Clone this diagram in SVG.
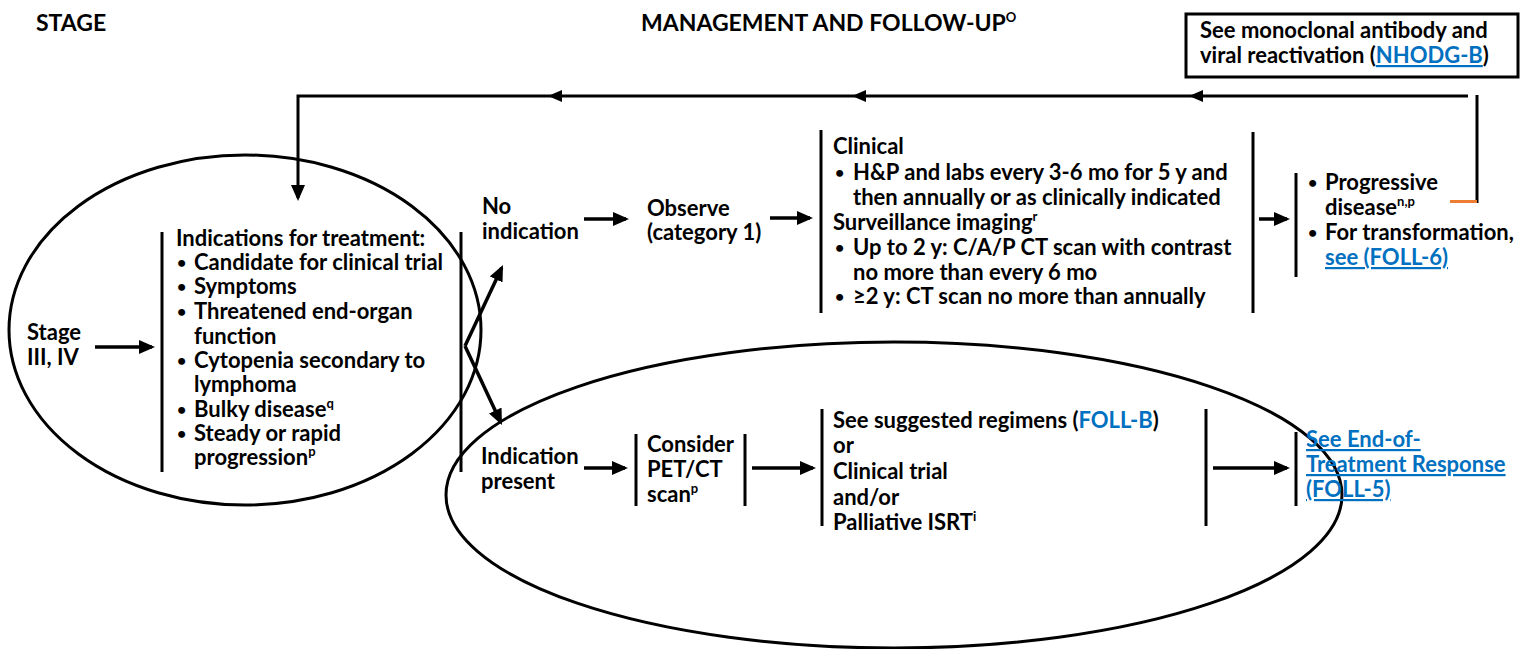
<svg xmlns="http://www.w3.org/2000/svg" width="1522" height="649" viewBox="0 0 1522 649">
<style>
text { font-family: Lato, "Liberation Sans", sans-serif; font-weight: bold; font-size: 22px; fill: #000; }
.hdr { font-size: 23px; }
.sup { font-size: 13px; }
.bul { font-size: 16px; }
.link { fill: #0070C0; text-decoration: underline; }
.blue { fill: #0070C0; }
.bar { stroke: #000; stroke-width: 3; fill: none; }
.ell { stroke: #000; stroke-width: 3; fill: none; }
.con { stroke: #000; stroke-width: 3.5; fill: none; }
.fb { stroke: #000; stroke-width: 3; fill: none; }
</style>
<defs>
<marker id="arr" viewBox="0 0 16 14" refX="13" refY="7" markerWidth="16" markerHeight="14" markerUnits="userSpaceOnUse" orient="auto">
<path d="M0,0 L16,7 L0,14 z" fill="#000"/>
</marker>
</defs>
<rect width="1522" height="649" fill="#fff"/>

<g id="headers">
<text class="hdr" x="36" y="31">STAGE</text>
<text class="hdr" x="641" y="31">MANAGEMENT AND FOLLOW-UP<tspan class="sup" dy="-9">O</tspan></text>
</g>

<g id="ellipses">
<ellipse class="ell" cx="245" cy="330" rx="236" ry="175"/>
<ellipse class="ell" cx="894" cy="495" rx="448" ry="153"/>
</g>

<g id="node-viral">
<rect x="1186" y="14" width="332" height="63" fill="none" stroke="#000" stroke-width="3"/>
<text x="1200" y="38">See monoclonal antibody and</text>
<text x="1200" y="63">viral reactivation (<tspan class="link">NHODG-B</tspan>)</text>
</g>

<g id="node-stage">
<text x="27" y="340">Stage</text>
<text x="27" y="365">III, IV</text>
</g>

<g id="node-indications">
<line class="bar" x1="162" y1="232" x2="162" y2="472"/>
<line class="bar" x1="461" y1="232" x2="461" y2="472"/>
<text x="176" y="246">Indications for treatment:</text>
<text class="bul" x="177" y="268">•</text><text x="194" y="270">Candidate for clinical trial</text>
<text class="bul" x="177" y="292">•</text><text x="194" y="294">Symptoms</text>
<text class="bul" x="177" y="317">•</text><text x="194" y="319">Threatened end-organ</text>
<text x="194" y="344">function</text>
<text class="bul" x="177" y="366">•</text><text x="194" y="368">Cytopenia secondary to</text>
<text x="194" y="392">lymphoma</text>
<text class="bul" x="177" y="415">•</text><text x="194" y="417">Bulky disease<tspan class="sup" dy="-9">q</tspan></text>
<text class="bul" x="177" y="439">•</text><text x="194" y="441">Steady or rapid</text>
<text x="194" y="465">progression<tspan class="sup" dy="-9">p</tspan></text>
</g>

<g id="node-no-indication">
<text x="482" y="214">No</text>
<text x="482" y="239">indication</text>
</g>

<g id="node-observe">
<text x="647" y="216">Observe</text>
<text x="647" y="240">(category 1)</text>
</g>

<g id="node-clinical">
<line class="bar" x1="821" y1="130" x2="821" y2="313"/>
<line class="bar" x1="1253" y1="132" x2="1253" y2="313"/>
<text x="833" y="154">Clinical</text>
<text class="bul" x="835" y="178">•</text><text x="853" y="180">H&amp;P and labs every 3-6 mo for 5 y and</text>
<text x="853" y="205">then annually or as clinically indicated</text>
<text x="833" y="230">Surveillance imaging<tspan class="sup" dy="-9">r</tspan></text>
<text class="bul" x="835" y="253">•</text><text x="853" y="255">Up to 2 y: C/A/P CT scan with contrast</text>
<text x="853" y="280">no more than every 6 mo</text>
<text class="bul" x="835" y="302">•</text><text x="853" y="304">≥2 y: CT scan no more than annually</text>
</g>

<g id="node-progressive">
<line class="bar" x1="1296" y1="173" x2="1296" y2="277"/>
<text class="bul" x="1308" y="188">•</text><text x="1325" y="190">Progressive</text>
<text x="1325" y="215">disease<tspan class="sup" dy="-9">n,p</tspan></text>
<text class="bul" x="1308" y="238">•</text><text x="1325" y="240">For transformation,</text>
<text x="1325" y="265" class="link">see (FOLL-6)</text>
</g>

<g id="node-indication-present">
<text x="481" y="464">Indication</text>
<text x="481" y="489">present</text>
</g>

<g id="node-petct">
<line class="bar" x1="636" y1="434" x2="636" y2="506"/>
<line class="bar" x1="745" y1="434" x2="745" y2="506"/>
<text x="647" y="452">Consider</text>
<text x="647" y="477">PET/CT</text>
<text x="647" y="502">scan<tspan class="sup" dy="-9">p</tspan></text>
</g>

<g id="node-regimens">
<line class="bar" x1="822" y1="409" x2="822" y2="526"/>
<line class="bar" x1="1206" y1="409" x2="1206" y2="526"/>
<text x="833" y="428">See suggested regimens (<tspan class="blue">FOLL-B</tspan>)</text>
<text x="833" y="453">or</text>
<text x="833" y="479">Clinical trial</text>
<text x="833" y="505">and/or</text>
<text x="833" y="530">Palliative ISRT<tspan class="sup" dy="-9">i</tspan></text>
</g>

<g id="node-eot">
<line class="bar" x1="1296" y1="432" x2="1296" y2="506"/>
<text x="1306" y="447" class="link">See End-of-</text>
<text x="1306" y="472" class="link">Treatment Response</text>
<text x="1306" y="497" class="link">(FOLL-5)</text>
</g>

<g id="connectors">
<line class="con" x1="95" y1="347" x2="152" y2="347" marker-end="url(#arr)"/>
<line class="con" x1="465" y1="346" x2="501.7" y2="267.7" marker-end="url(#arr)"/>
<line class="con" x1="465" y1="346" x2="500.7" y2="422.3" marker-end="url(#arr)"/>
<line class="con" x1="584" y1="219" x2="626" y2="219" marker-end="url(#arr)"/>
<line class="con" x1="770" y1="218" x2="810" y2="218" marker-end="url(#arr)"/>
<line class="con" x1="1259" y1="219" x2="1287" y2="219" marker-end="url(#arr)"/>
<line class="con" x1="584" y1="468" x2="625" y2="468" marker-end="url(#arr)"/>
<line class="con" x1="752" y1="468" x2="813" y2="468" marker-end="url(#arr)"/>
<line class="con" x1="1213" y1="468" x2="1287" y2="468" marker-end="url(#arr)"/>
<polyline class="fb" points="1468,96 298,96 298,198" marker-end="url(#arr)"/>
<polygon points="1189,96 1203,90 1203,102" fill="#000"/>
<polygon points="852,96 866,90 866,102" fill="#000"/>
<polygon points="548,96 562,90 562,102" fill="#000"/>
<line class="fb" x1="1477" y1="95" x2="1477" y2="203"/>
<line x1="1450" y1="201.5" x2="1477" y2="201.5" stroke="#ED7D31" stroke-width="3"/>
</g>
</svg>
